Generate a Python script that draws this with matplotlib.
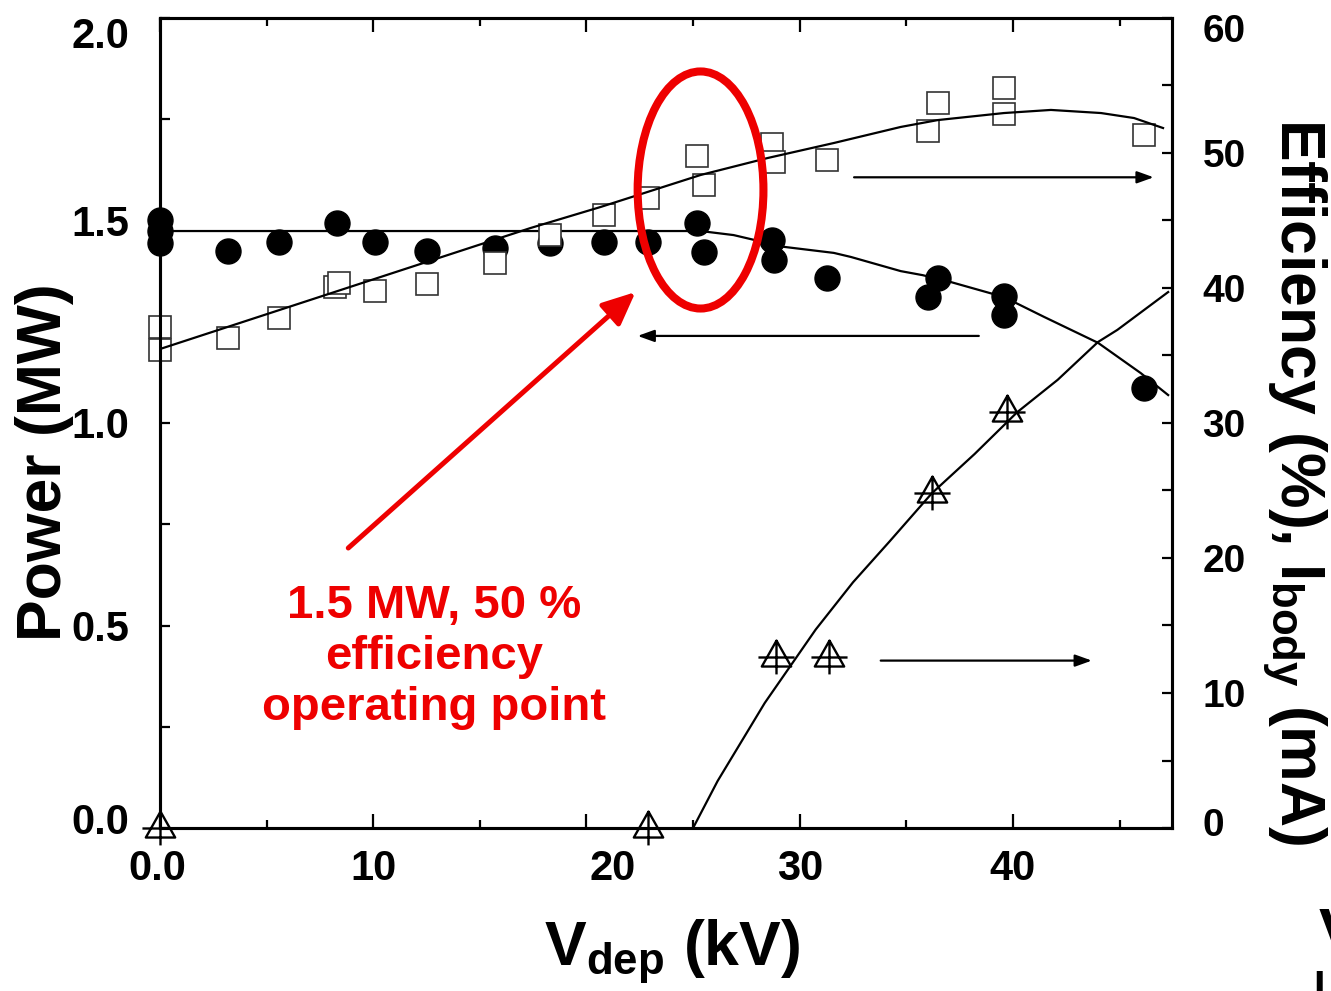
import numpy as np
import matplotlib
matplotlib.use("Agg")
import matplotlib.pyplot as plt
import matplotlib.transforms as mtransforms
from matplotlib.patches import Ellipse
from matplotlib.path import Path

plt.rcParams['font.family'] = ['Liberation Sans', 'DejaVu Sans']
plt.rcParams['font.weight'] = 'bold'
plt.rcParams['mathtext.fontset'] = 'custom'
plt.rcParams['mathtext.rm'] = 'Liberation Sans:bold'
plt.rcParams['mathtext.bf'] = 'Liberation Sans:bold'
plt.rcParams['mathtext.it'] = 'Liberation Sans:bold'

# measured points
v_power = [0.0, 0.0, 0.0, 3.2, 5.6, 8.3, 10.1, 12.5, 15.7, 18.3, 20.8, 22.9,
           25.2, 25.5, 28.7, 28.8, 31.3, 36.0, 36.5, 39.6, 39.6, 46.15]
power = [1.50, 1.475, 1.445, 1.425, 1.447, 1.494, 1.447, 1.425, 1.432, 1.444, 1.447, 1.447,
         1.494, 1.422, 1.452, 1.402, 1.358, 1.311, 1.358, 1.313, 1.267, 1.086]

v_eff = [0.0, 0.0, 3.2, 5.6, 8.2, 8.4, 10.1, 12.5, 15.7, 18.3, 20.8, 22.9,
         25.2, 25.5, 28.7, 28.8, 31.3, 36.0, 36.5, 39.6, 39.6, 46.15]
eff = [37.1, 35.4, 36.3, 37.8, 40.1, 40.4, 39.8, 40.3, 41.85, 43.9, 45.4, 46.7,
       49.8, 47.6, 50.7, 49.3, 49.5, 51.6, 53.7, 54.8, 52.9, 51.3]

v_ibody = [0.0, 22.9, 28.87, 31.36, 36.2, 39.7]
ibody = [0.0, 0.0, 12.7, 12.7, 24.8, 30.8]

# fitted curves
v_power_fit = [0.0, 25.35, 26.9, 29.25, 31.6, 32.4, 34.74, 35.77, 37.09, 39.58, 41.46, 43.99, 46.0, 47.28]
power_fit = [1.474, 1.474, 1.464, 1.435, 1.420, 1.410, 1.375, 1.365, 1.348, 1.311, 1.262, 1.198, 1.123, 1.069]

v_eff_fit = [0.0, 17.37, 20.66, 25.35, 28.5, 31.6, 34.74, 36.48, 39.58, 41.78, 44.13, 45.68, 47.04]
eff_fit = [35.48, 44.44, 46.0, 48.37, 49.63, 50.74, 51.93, 52.44, 52.96, 53.19, 52.96, 52.59, 51.85]

v_ibody_fit = [25.0, 26.15, 28.36, 30.75, 32.5, 34.2, 36.2, 38.2, 40.2, 42.1, 43.99, 44.9, 47.28]
ibody_fit = [0.0, 3.48, 9.26, 14.7, 18.2, 21.2, 24.8, 27.7, 30.8, 33.2, 36.0, 36.9, 39.7]

x_ticks = [0, 10, 20, 30, 40]
x_ticklabels = ['0.0', '10', '20', '30', '40']
p_ticks = [0.0, 0.5, 1.0, 1.5, 2.0]
p_ticklabels = ['0.0', '0.5', '1.0', '1.5', '2.0']
e_ticks = [0, 10, 20, 30, 40, 50, 60]

# triangle with a cross through it
tri_cross = Path([(0, 15), (-13, -8), (13, -8), (0, 15), (0, 15), (0, -15), (-16, 0), (16, 0)],
                 [Path.MOVETO, Path.LINETO, Path.LINETO, Path.CLOSEPOLY,
                  Path.MOVETO, Path.LINETO, Path.MOVETO, Path.LINETO])

fig = plt.figure(figsize=(13.31, 9.91), dpi=100)
ax = fig.add_axes([160/1331, 163/991, 1012/1331, 810/991])
ax2 = ax.twinx()

# power (left axis)
ax.plot(v_power_fit, power_fit, color='black', lw=1.6, zorder=2)
ax.plot(v_power, power, 'o', color='black', ms=18, zorder=3, clip_on=False)

# efficiency and body current (right axis)
ax2.plot(v_eff, eff, 's', mfc='white', mec='#333333', mew=1.2, ms=16, zorder=2, clip_on=False)
ax2.plot(v_eff_fit, eff_fit, color='black', lw=1.6, zorder=3)
ax2.plot(v_ibody_fit, ibody_fit, color='black', lw=1.6, zorder=3)
ax2.plot(v_ibody, ibody, marker=tri_cross, ls='none', mfc='none', mec='black', mew=1.7,
         ms=26, zorder=4, clip_on=False)

ax.set_xlim(0, 47.46)
ax.set_ylim(0, 2.0)
ax2.set_ylim(0, 60)

ax.set_xticks(x_ticks)
ax.set_xticklabels(x_ticklabels)
ax.set_xticks(np.arange(5, 47, 10), minor=True)
ax.set_yticks(p_ticks)
ax.set_yticklabels(p_ticklabels)
ax.set_yticks(np.arange(0.25, 2.0, 0.5), minor=True)
ax2.set_yticks(e_ticks)
ax2.set_yticks(np.arange(5, 60, 10), minor=True)

ax.tick_params(axis='x', which='both', direction='in', top=True, width=1.6, pad=15)
ax.tick_params(axis='x', which='major', length=10, labelsize=30)
ax.tick_params(axis='x', which='minor', length=6)
ax.tick_params(axis='y', which='both', direction='in', right=False, length=7, width=1.6,
               labelsize=30, pad=22)
ax2.tick_params(axis='y', which='both', direction='in', length=7, width=1.6,
                labelsize=28, pad=22)

for a in (ax, ax2):
    for s in a.spines.values():
        s.set_linewidth(2.2)


def shift(label, dx, dy):
    label.set_transform(label.get_transform() +
                        mtransforms.ScaledTranslation(dx/100, dy/100, fig.dpi_scale_trans))


shift(ax.get_xticklabels()[0], -3, 0)
shift(ax.get_xticklabels()[2], 26, 0)
shift(ax.get_yticklabels()[4], 0, -15)
shift(ax.get_yticklabels()[0], 0, 10)
shift(ax2.get_yticklabels()[6], 0, -10)
shift(ax2.get_yticklabels()[0], 0, 6)

ax.set_xlabel(r'V$_{\mathbf{dep}}$ (kV)', fontsize=45, fontweight='bold')
ax.xaxis.label.set_va('center')
ax.xaxis.set_label_coords(0.506, -0.153)
ax.set_ylabel('Power (MW)', fontsize=45, fontweight='bold')
ax.yaxis.label.set_va('center')
ax.yaxis.set_label_coords(-0.114, 0.452)
ax2.set_ylabel(r'Efficiency (%), I$_{\mathbf{body}}$ (mA)', fontsize=45,
               fontweight='bold', rotation=270)
ax2.yaxis.label.set_va('center')
ax2.yaxis.set_label_coords(1.121, 0.427)

# direction arrows
arrow_kw = dict(arrowstyle='-|>,head_length=0.5,head_width=0.18', color='black',
                lw=1.6, mutation_scale=20, shrinkA=0, shrinkB=0)
ax2.annotate('', xy=(46.6, 48.2), xytext=(32.55, 48.2), arrowprops=arrow_kw)
ax.annotate('', xy=(22.4, 1.215), xytext=(38.4, 1.215), arrowprops=arrow_kw)
ax2.annotate('', xy=(43.7, 12.4), xytext=(33.8, 12.4), arrowprops=arrow_kw)

# operating point highlight
ax2.add_patch(Ellipse((25.35, 47.26), 5.9, 17.56, fill=False, ec='#ee0000', lw=5.8, zorder=6))
ax2.annotate('', xy=(22.3, 39.7), xytext=(8.83, 20.74),
             arrowprops=dict(arrowstyle='-|>,head_length=1.0,head_width=0.45',
                             color='#ee0000', lw=3.6, mutation_scale=20,
                             shrinkA=0, shrinkB=0), zorder=6)
ax2.text(12.86, 12.67, '1.5 MW, 50 %\nefficiency\noperating point', color='#ee0000',
         fontsize=34, fontweight='bold', ha='center', va='center', linespacing=1.2, zorder=6)

# cut-off text at the right edge of the original slide
fig.text(1319/1331, 1 - 952/991, 'V', fontsize=45, fontweight='bold', va='baseline')
fig.text(1313/1331, 1 - 1000/991, 'I', fontsize=30, fontweight='bold', va='baseline')

fig.savefig('out.png', dpi=100)
